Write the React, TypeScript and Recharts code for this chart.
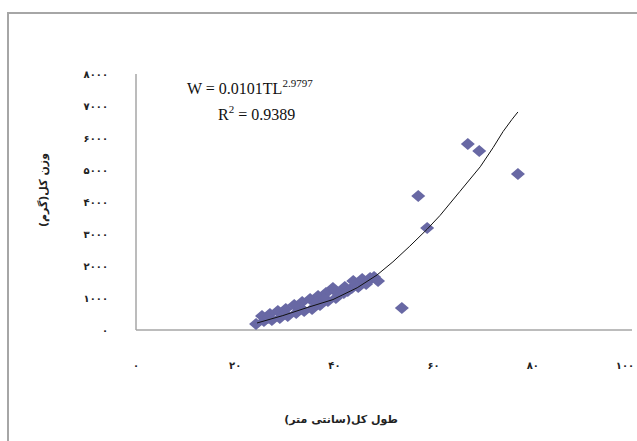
import React from 'react';
import { ScatterChart, Scatter, XAxis, YAxis } from 'recharts';

// total length (cm) / total weight (g) readings
const lengths = [
    24.2, 25.8, 27.4, 29.0, 30.6, 32.3, 33.9, 35.5, 37.1, 38.7, 40.3, 41.9, 43.5, 45.2, 46.8, 48.0,
    25.4, 27.0, 28.6, 30.2, 31.9, 33.5, 35.1, 36.7, 38.3, 39.9,
    39.7, 43.8, 45.6, 47.2, 48.8, 42.1, 41.1,
    26.6, 29.8, 33.1, 36.3, 37.9, 42.7, 44.8, 46.4,
    53.6, 56.9, 58.7, 66.9, 69.2, 77.0,
];
const weights = [
    188, 281, 313, 375, 438, 531, 594, 656, 781, 906, 1000, 1156, 1313, 1406, 1531, 1656,
    438, 500, 594, 656, 781, 875, 969, 1063, 1156, 1250,
    1313, 1531, 1594, 1625, 1531, 1344, 1156,
    375, 500, 688, 875, 969, 1219, 1344, 1438,
    688, 4188, 3188, 5813, 5594, 4875,
];

// fitted power curve as drawn
const trendLengths = [24.4, 29.6, 34.5, 39.7, 44.6, 48.6, 51.8, 55.2, 58.7, 61.3, 65.3, 69.4, 72.0, 74.0, 75.8, 77.0];
const trendWeights = [219, 450, 700, 950, 1320, 1720, 2130, 2620, 3150, 3580, 4330, 5100, 5700, 6200, 6580, 6813];

const xTicks = [0, 20, 40, 60, 80, 100];
const yTicks = [0, 1000, 2000, 3000, 4000, 5000, 6000, 7000, 8000];

const points = lengths.map((l, i) => ({ tl: l, w: weights[i] }));
const trend = trendLengths.map((l, i) => ({ tl: l, w: trendWeights[i] }));

const FA_DIGITS = '۰۱۲۳۴۵۶۷۸۹';
const toFa = (n: number) => String(n).replace(/\d/g, (d) => FA_DIGITS[+d]);

const MARKER = '#6868a4';
const AXIS = '#a6a6a6';
const FA_FONT = '"DejaVu Sans", sans-serif';

const Diamond = (props: any) => {
    const { cx, cy } = props;
    if (cx == null || cy == null) return null;
    return <polygon points={`${cx},${cy - 6} ${cx + 7},${cy} ${cx},${cy + 6} ${cx - 7},${cy}`} fill={MARKER} />;
};

const XTick = ({ x, y, payload }: any) => (
    <text x={x} y={y + 31} textAnchor="middle" fontSize={10} fontWeight="bold" fill="#222" fontFamily={FA_FONT}>
        {toFa(payload.value)}
    </text>
);

const YTick = ({ x, y, payload }: any) => (
    <text x={x - 20} y={y + 4} textAnchor="end" fontSize={10} fontWeight="bold" fill="#222" fontFamily={FA_FONT}>
        {toFa(payload.value)}
    </text>
);

export default function App() {
    return (
        <div style={{ position: 'fixed', left: 0, top: 0, width: 637, height: 441, background: '#fff', overflow: 'hidden' }}>
            {/* outer chart frame, only top and left edges are in view */}
            <div style={{ position: 'absolute', left: 7, top: 12, width: 630, height: 2, background: AXIS }} />
            <div style={{ position: 'absolute', left: 7, top: 12, width: 2, height: 429, background: AXIS }} />
            <ScatterChart width={637} height={441} margin={{ top: 74, right: 5, bottom: 81, left: 0 }} style={{ position: 'absolute', left: 0, top: 0 }}>
                <XAxis type="number" dataKey="tl" domain={[0, 100]} ticks={xTicks} tickLine={false} axisLine={{ stroke: AXIS, strokeWidth: 1.5 }} tick={<XTick />} height={30} />
                <YAxis type="number" dataKey="w" domain={[0, 8000]} ticks={yTicks} tickLine={false} axisLine={{ stroke: AXIS, strokeWidth: 1.5 }} tick={<YTick />} width={136} />
                <Scatter data={points} shape={<Diamond />} isAnimationActive={false} />
                <Scatter data={trend} line={{ stroke: '#111', strokeWidth: 1 }} lineType="joint" shape={() => null} isAnimationActive={false} />
            </ScatterChart>
            <div style={{ position: 'absolute', left: 187, top: 80, fontFamily: '"Liberation Serif", serif', fontSize: 16, color: '#111', whiteSpace: 'nowrap' }}>
                W = 0.0101TL<sup style={{ fontSize: 11, verticalAlign: 0, position: 'relative', top: -7 }}>2.9797</sup>
            </div>
            <div style={{ position: 'absolute', left: 218, top: 106, fontFamily: '"Liberation Serif", serif', fontSize: 16, color: '#111', whiteSpace: 'nowrap' }}>
                R<sup style={{ fontSize: 11, verticalAlign: 0, position: 'relative', top: -7 }}>2</sup> = 0.9389
            </div>
            <div style={{ position: 'absolute', left: 341, top: 419, transform: 'translate(-50%, -50%)', fontFamily: FA_FONT, fontSize: 11, fontWeight: 'bold', color: '#222', whiteSpace: 'nowrap' }} dir="rtl">
                طول کل(سانتی متر)
            </div>
            <div style={{ position: 'absolute', left: 43, top: 190, transform: 'translate(-50%, -50%) rotate(-90deg)', fontFamily: FA_FONT, fontSize: 11, fontWeight: 'bold', color: '#222', whiteSpace: 'nowrap' }} dir="rtl">
                وزن کل(گرم)
            </div>
        </div>
    );
}
